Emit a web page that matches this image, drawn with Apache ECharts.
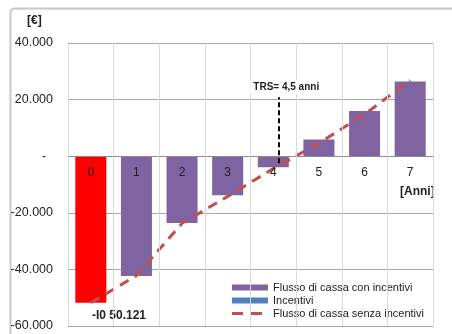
<!DOCTYPE html>
<html>
<head>
<meta charset="utf-8">
<script src="https://cdn.jsdelivr.net/npm/echarts@6/dist/echarts.min.js"></script>
<style>
html, body { margin: 0; padding: 0; background: #fff; }
#chart { width: 452px; height: 334px; }
</style>
</head>
<body>
<div id="chart"></div>
<script>
var anni = ['0', '1', '2', '3', '4', '5', '6', '7'];
var flusso_con_incentivi = [-51800, -42300, -23600, -13800, -3900, 5900, 16000, 26400];
var incentivi = [0, 0, 0, 0, 0, 0, 0, 0];
var flusso_senza_incentivi = [-51800, -42200, -23700, -14200, -4400, 4600, 14800, 26800];
var y_min = -60000, y_max = 40000, y_step = 20000;
var trs_pos = 4.13;
var trs_range = [-2500, 20800];

function fmt(v){
	if(v == 0) return '-  ';
	var s = Math.abs(v).toString().replace(/\B(?=(\d{3})+(?!\d))/g, '.');
	return (v < 0 ? '-' : '') + s;
}

var chart = echarts.init(document.getElementById('chart'));
var option = {
	animation: false,
	textStyle: { fontFamily: 'Liberation Sans' },
	grid: { left: 68, right: 19, top: 43, bottom: 8, outerBoundsMode: 'none', containLabel: false },
	legend: {
		right: 24, bottom: 12,
		orient: 'vertical',
		backgroundColor: '#fff',
		padding: [5, 4, 3, 4],
		itemWidth: 36, itemHeight: 6, itemGap: 2,
		textStyle: { fontSize: 11, color: '#222' },
		data: [
			{ name: 'Flusso di cassa con incentivi', icon: 'rect' },
			{ name: 'Incentivi', icon: 'rect' },
			{ name: 'Flusso di cassa senza incentivi', itemStyle: { opacity: 0 },
			  lineStyle: { type: [11, 8, 11, 20], width: 3, color: '#C0504D' } }
		]
	},
	xAxis: [
		{
			type: 'category',
			position: 'bottom',
			data: anni,
			axisLine: { onZero: false, lineStyle: { color: '#8c8c8c', width: 1 } },
			axisTick: { show: true, length: 4, lineStyle: { color: '#d9d9d9' } },
			axisLabel: { show: true, color: '#222', fontSize: 12, margin: 10 },
			splitLine: { show: true, lineStyle: { color: '#d9d9d9' } },
			z: 5
		},
		{
			type: 'value', position: 'bottom', min: -0.5, max: 7.5, show: false
		}
	],
	yAxis: {
		type: 'value',
		min: y_min, max: y_max, interval: y_step,
		axisLine: { show: true, onZero: false, lineStyle: { color: '#8c8c8c' } },
		axisTick: { show: false },
		axisLabel: { color: '#222', fontSize: 12.5, margin: 15, formatter: fmt },
		splitLine: { lineStyle: { color: '#a6a6a6' } }
	},
	series: [
		{
			name: 'Flusso di cassa con incentivi',
			type: 'bar',
			stack: 'tot',
			barCategoryGap: '32%',
			itemStyle: { color: '#8064A2' },
			data: flusso_con_incentivi.map(function(v, i){
				return i == 0 ? { value: v, itemStyle: { color: '#FF0000' } } : v;
			})
		},
		{
			name: 'Incentivi',
			type: 'bar',
			stack: 'tot',
			itemStyle: { color: '#4F81BD' },
			data: incentivi
		},
		{
			name: 'Flusso di cassa senza incentivi',
			type: 'line',
			symbol: 'none',
			itemStyle: { color: '#C0504D' },
			lineStyle: { color: '#C0504D', width: 3, type: [10, 7] },
			data: flusso_senza_incentivi
		},
		{
			name: 'TRS',
			type: 'line',
			xAxisIndex: 1,
			data: [],
			markLine: {
				silent: true,
				symbol: 'none',
				lineStyle: { color: '#000', width: 2, type: [5, 3] },
				label: {
					show: true, position: 'end', formatter: 'TRS= 4,5 anni',
					fontSize: 10, fontWeight: 'bold', color: '#222',
					backgroundColor: '#fff', padding: [2, 3], distance: 3, offset: [7, 0]
				},
				data: [[ { coord: [trs_pos, trs_range[0]] }, { coord: [trs_pos, trs_range[1]] } ]]
			}
		}
	],
	graphic: [
		{ type: 'rect', left: 8, top: 6, silent: true, z: -1,
		  shape: { width: 470, height: 360, r: 4 },
		  style: { fill: 'none', stroke: '#c8c8c8', lineWidth: 2 } },
		{ type: 'text', left: 27, top: 15, style: { text: '[€]', font: 'bold 12px Liberation Sans', fill: '#222' } },
		{ type: 'text', left: 400, top: 186, style: { text: '[Anni]', font: 'bold 12px Liberation Sans', fill: '#222' } },
		{ type: 'text', left: 92, top: 310, style: { text: '-I0 50.121', font: 'bold 12px Liberation Sans', fill: '#222' } }
	]
};
chart.setOption(option);

// sposta l'asse delle categorie sullo zero
var zero_px = chart.convertToPixel({ yAxisIndex: 0 }, 0);
var bottom_px = chart.convertToPixel({ yAxisIndex: 0 }, y_min);
chart.setOption({ xAxis: [{ offset: zero_px - bottom_px }, {}] });
</script>
</body>
</html>
